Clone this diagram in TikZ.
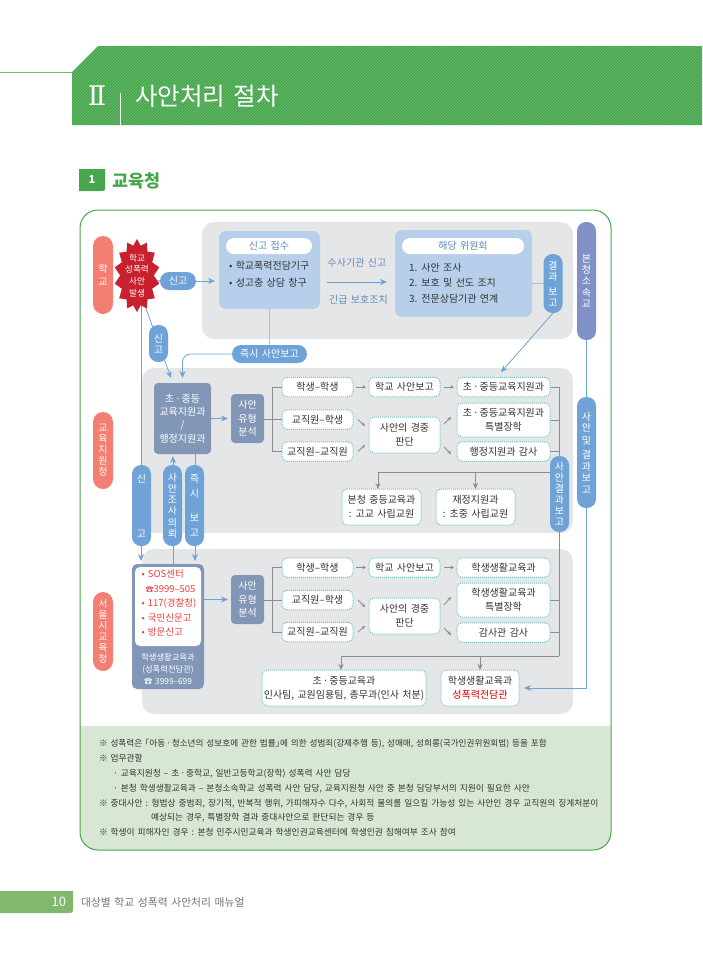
\documentclass[tikz,border=0pt]{standalone}
\usepackage{fontspec}
\setmainfont[WordSpace=1.5]{Noto Sans CJK KR}
\newfontfamily\numeralfont{DejaVu Serif}
\usetikzlibrary{positioning, arrows.meta, shapes.symbols, patterns, backgrounds}
\definecolor{framegreen}{HTML}{46A64C}
\definecolor{hatchgreen}{HTML}{6FBC72}
\definecolor{tabgreen}{HTML}{82B86E}
\definecolor{notegreen}{HTML}{D8E7D3}
\definecolor{panelgray}{HTML}{E5E6E8}
\definecolor{boxblue}{HTML}{B7CFEA}
\definecolor{pillblue}{HTML}{6FA3D8}
\definecolor{lineblue}{HTML}{9DC0E4}
\definecolor{slate}{HTML}{8296B8}
\definecolor{purple}{HTML}{8091C7}
\definecolor{salmon}{HTML}{F57E72}
\definecolor{starred}{HTML}{C8202E}
\definecolor{teal}{HTML}{6FC7C2}
\definecolor{arrowgray}{HTML}{8C8C8C}
\definecolor{inkgray}{HTML}{333333}
\definecolor{itemred}{HTML}{E6403F}
\newcommand{\middot}{\hspace{0.1em}·\hspace{0.1em}}

\begin{document}
\begin{tikzpicture}[x=1pt, y=-1pt,
  every node/.style={inner sep=0pt, outer sep=0pt},
  panel/.style={fill=panelgray, rounded corners=12pt},
  pillv/.style={fill=pillblue, rounded corners=9pt, minimum width=19pt, align=center,
                text=white, font=\fontsize{10}{11}\selectfont},
  pillh/.style={fill=pillblue, rounded corners=9pt, minimum height=18pt, align=center,
                text=white, font=\fontsize{10}{12}\selectfont},
  orgpill/.style={fill=salmon, rounded corners=10pt, minimum width=20pt, align=center,
                  text=white, font=\fontsize{10}{11}\selectfont},
  bluebox/.style={fill=boxblue, rounded corners=7pt},
  whitepill/.style={fill=white, rounded corners=8pt, minimum height=16pt,
                    text=pillblue!85!black, font=\fontsize{10}{12}\selectfont},
  slatebox/.style={fill=slate, rounded corners=4pt, align=center, text=white,
                   font=\fontsize{10}{13.3}\selectfont},
  tealbox/.style={draw=teal, dash pattern=on 1pt off 1pt, line width=1pt, fill=white, rounded corners=5pt,
                  align=center, text=inkgray, font=\fontsize{10}{14}\selectfont},
  bline/.style={color=lineblue, line width=1.1pt},
  barr/.style={-{Stealth[length=7pt, width=6pt]}, color=pillblue, line width=0.8pt},
  gline/.style={color=arrowgray, line width=0.8pt},
  garr/.style={-{Stealth[length=6pt, width=5pt]}, color=arrowgray, line width=0.8pt},
  gsmall/.style={-{Stealth[length=3.5pt, width=3.5pt]}, color=arrowgray, line width=0.8pt},
  lbl/.style={text=pillblue!85!black, font=\fontsize{10}{12}\selectfont},
]
\useasboundingbox (0,0) rectangle (702,956);

% === Page header ===
\draw[color=hatchgreen, line width=0.8pt] (0,72.5) -- (72,72.5);
\fill[framegreen] (72,72) -- (98,46) -- (702,46) -- (702,125) -- (72,125) -- cycle;
\fill[pattern=north east lines, pattern color=hatchgreen] (72,72) -- (98,46) -- (702,46) -- (702,125) -- (72,125) -- cycle;
\draw[color=white, line width=0.8pt] (120,93) -- (120,125);
\node[text=white, font=\numeralfont\fontsize{27}{27}\selectfont] (chapno) at (97,96) {Ⅱ};
\node[text=white, anchor=west, font=\fontsize{24.6}{25}\selectfont] (chaptitle) at (135,96.5) {사안처리 절차};

% === Section title ===
\fill[framegreen] (79,169) -- (105,169) -- (105,186) .. controls (105,191) and (105,191) .. (100,191) -- (79,191) -- cycle;
\node[text=white, font=\bfseries\fontsize{11}{11}\selectfont] (secno) at (92,180) {1};
\node[text=framegreen, anchor=west, font=\bfseries\fontsize{17.4}{18}\selectfont] (sectitle) at (112,181) {교육청};

% === Frame and gray panels ===
\begin{scope}[on background layer]
  \begin{scope}
    \clip[rounded corners=18pt] (80,210) rectangle (611,850);
    \fill[notegreen] (80,726) rectangle (611,850);
  \end{scope}
  \draw[color=framegreen, line width=1pt, rounded corners=18pt] (80,210) rectangle (611,850);
  \fill[panel] (202,222) rectangle (573,339);
  \fill[panel] (142,368) rectangle (573,533);
  \fill[panel] (142,549) rectangle (573,714);
\end{scope}

% === Row labels ===
\node[orgpill, minimum height=78pt] (school) at (103,275) {학\\[2pt]교};
\node[orgpill, minimum height=77pt] (district) at (103,450.5) {교\\육\\지\\원\\청};
\node[orgpill, minimum height=79pt] (seoul) at (103,631.5) {서\\울\\시\\교\\육\\청};
\node[fill=purple, rounded corners=9pt, minimum width=19pt, minimum height=118pt, align=center,
      text=white, font=\fontsize{10}{11.3}\selectfont] (head) at (586.5,281) {본\\청\\소\\속\\교};

% === Incident and first report ===
\node[fill=starred, starburst, starburst points=14, starburst point height=6pt, random starburst=0,
      align=center, text=white, font=\fontsize{8.6}{11.8}\selectfont] (incident) at (137,275.5) {학교\\성폭력\\사안\\발생};
\node[pillh, minimum width=36pt] (reportpill) at (178,281) {신고};
\node[pillv, minimum height=37pt] (reportv) at (158.5,343.5) {신\\고};

% === Report desk ===
\node[bluebox, minimum width=101pt, minimum height=78pt] (receipt) at (269.5,270) {};
\node[whitepill, minimum width=86pt] (receipthead) at (269,246) {신고 접수};
\node[anchor=north west, align=left, text=inkgray, font=\fontsize{10}{17}\selectfont] (receiptlist) at (229,261) {• 학교폭력전담기구\\• 성고충 상담 창구};
\node[pillh, minimum width=75pt] (immediate) at (269.5,354) {즉시 사안보고};
\node[lbl] (police) at (357,263) {수사기관 신고};
\node[lbl] (protect) at (358.5,300) {긴급 보호조치};

% === Committee ===
\node[bluebox, minimum width=137pt, minimum height=87pt] (committee) at (463.5,273.5) {};
\node[whitepill, minimum width=122pt] (committeehead) at (463,246) {해당 위원회};
\node[anchor=north west, align=left, text=inkgray, font=\fontsize{10}{15.5}\selectfont] (committeelist) at (409,263) {1. 사안 조사\\2. 보호 및 선도 조치\\3. 전문상담기관 연계};
\node[pillv, minimum height=59pt] (resultpill) at (553,283.5) {결\\과\\[4pt]보\\고};

% === Education office row ===
\node[slatebox, minimum width=57pt, minimum height=71pt] (midbox) at (182.5,418.5) {초\middot 중등\\교육지원과\\/\\행정지원과};
\node[slatebox, minimum width=33pt, minimum height=49pt, right=20pt of midbox] (manal) {사안\\유형\\분석};
\node[tealbox, minimum width=71pt, minimum height=19.5pt] (mpp) at (317.5,387) {학생–학생};
\node[tealbox, minimum width=71pt, minimum height=19.5pt, below=13pt of mpp] (mts) {교직원–학생};
\node[tealbox, minimum width=71pt, minimum height=19.5pt, below=12.5pt of mts] (mtt) {교직원–교직원};
\node[tealbox, minimum width=71pt, minimum height=19.5pt, right=16pt of mpp] (mreport) {학교 사안보고};
\node[tealbox, minimum width=93pt, minimum height=19.5pt, right=17pt of mreport] (mdept) {초\middot 중등교육지원과};
\node[tealbox, minimum width=71pt, minimum height=36pt] (mjudge) at (404.5,435) {사안의 경중\\판단};
\node[tealbox, minimum width=93pt, minimum height=34pt] (mspecial) at (503.5,420) {초\middot 중등교육지원과\\특별장학};
\node[tealbox, minimum width=93pt, minimum height=19.5pt] (maudit) at (503.5,451.5) {행정지원과 감사};
\node[tealbox, minimum width=79pt, minimum height=36pt] (msec) at (381.5,507) {본청 중등교육과\\: 고교 사립교원};
\node[tealbox, minimum width=79pt, minimum height=36pt, right=15pt of msec] (mfin) {재정지원과\\: 초중 사립교원};

% === Vertical report pills ===
\node[pillv, minimum height=81pt] (reportlong) at (141.5,505.5) {신\\[44pt]고};
\node[pillv, minimum height=81pt, font=\fontsize{10}{11.2}\selectfont] (inquiry) at (172.5,505.5) {사\\안\\조\\사\\의\\뢰};
\node[pillv, minimum height=81pt, font=\fontsize{10}{15}\selectfont] (immediatev) at (194.5,505.5) {즉\\시\\[9pt]보\\고};
\node[pillv, minimum height=76pt, font=\fontsize{10}{10.5}\selectfont] (resultlong) at (559.5,494) {사\\안\\[1pt]결\\과\\[1pt]보\\고};
\node[pillv, minimum height=111pt, font=\fontsize{10}{11.5}\selectfont] (resultall) at (586.5,452.5) {사\\안\\[1pt]및\\[3pt]결\\과\\보\\고};

% === Seoul office row ===
\node[fill=slate, rounded corners=5pt, minimum width=72pt, minimum height=125pt] (seoulbox) at (168,626.5) {};
\node[fill=white, rounded corners=5pt, minimum width=66pt, minimum height=79pt] (seoulinner) at (168,606.5) {};
\node[anchor=north west, align=left, text=itemred, font=\fontsize{9.5}{14.4}\selectfont] (seoullist) at (141.5,570) {• SOS센터\\\hspace*{4pt}{\fontsize{8}{8}\selectfont ☎}3999–505\\• 117(경찰청)\\• 국민신문고\\• 방문신고};
\node[align=center, text=white, font=\fontsize{8.3}{12}\selectfont] (seoulcaption) at (168,669) {학생생활교육과\\(성폭력전담관)\\☎ 3999–699};
\node[slatebox, minimum width=33pt, minimum height=49pt] (sanal) at (247.5,599.5) {사안\\유형\\분석};
\node[tealbox, minimum width=71pt, minimum height=19.5pt] (spp) at (317.5,567.5) {학생–학생};
\node[tealbox, minimum width=71pt, minimum height=19.5pt, below=13pt of spp] (sts) {교직원–학생};
\node[tealbox, minimum width=71pt, minimum height=19.5pt, below=12.5pt of sts] (stt) {교직원–교직원};
\node[tealbox, minimum width=71pt, minimum height=19.5pt, right=16pt of spp] (sreport) {학교 사안보고};
\node[tealbox, minimum width=93pt, minimum height=19.5pt, right=17pt of sreport] (sdept) {학생생활교육과};
\node[tealbox, minimum width=71pt, minimum height=36pt] (sjudge) at (404.5,616) {사안의 경중\\판단};
\node[tealbox, minimum width=93pt, minimum height=34pt] (sspecial) at (503.5,600) {학생생활교육과\\특별장학};
\node[tealbox, minimum width=93pt, minimum height=19.5pt] (saudit) at (503.5,632.5) {감사관 감사};
\node[tealbox, minimum width=164pt, minimum height=36pt] (spersonnel) at (344,688) {초\middot 중등교육과\\인사팀, 교원임용팀, 총무과(인사 처분)};
\node[tealbox, minimum width=78pt, minimum height=36pt] (scounsel) at (480,688) {학생생활교육과\\{\color{red!85!black}성폭력전담관}};

% === Bus coordinates ===
\coordinate (busupper) at (559,472);
\coordinate (buslower) at (559,656);

% === Blue connectors ===
\begin{scope}[on background layer]
  % Incident -> Report desk
  \draw[bline] ([yshift=-5.5pt]incident.center) -- (reportpill.west);
  \draw[barr] (reportpill.east) -- ([xshift=-4pt,yshift=-11pt]receipt.west);
  % Incident -> Education office
  \draw[barr] ([xshift=8pt,yshift=-30pt]incident.center) -- ([xshift=-11.5pt,yshift=5pt]midbox.north);
  % Incident -> Seoul office
  \draw[barr] ([xshift=4pt]incident.center) -- ([xshift=9pt,yshift=3pt]seoulbox.north west);
  % Report desk -> Education office
  \draw[bline] (receipt.south) -- (immediate.north);
  \draw[barr, rounded corners=8pt] (immediate.west) -| ([yshift=5pt]midbox.north);
  % Report desk -> Committee
  \draw[barr] ([xshift=7pt,yshift=-12pt]receipt.east) -- ([xshift=-8pt,yshift=-8.5pt]committee.west);
  \draw[bline] (resultpill.west -| committee.east) -- (resultpill.west);
  \draw[barr] (resultpill.south) -- ([xshift=-2.5pt,yshift=5pt]mdept.north);
  % Education office <-> Seoul office
  \draw[barr] ([xshift=41pt]seoulbox.north west) -- ([xshift=19pt,yshift=-2pt]midbox.south west);
  \draw[barr] ([xshift=41pt]midbox.south west) -- ([xshift=63pt,yshift=3pt]seoulbox.north west);
  % Analysis arrows
  \draw[barr] (midbox.east) -- ([xshift=-3pt]manal.west);
  \draw[barr] (sanal.west -| seoulbox.east) -- ([xshift=-3pt]sanal.west);
  % Head school -> Counsellor
  \draw[barr] (head.south) |- ([xshift=5pt]scounsel.east);
\end{scope}

% === Gray connectors ===
\begin{scope}[on background layer]
  % Education office case types
  \draw[gline] (mpp.west) -| ([xshift=-10pt]mtt.west) -- (mtt.west);
  \draw[gline] (manal.east |- mts.west) -- (mts.west);
  \draw[gsmall] ([xshift=3pt]mpp.east) -- ([xshift=-3pt]mreport.west);
  \draw[gsmall] ([xshift=4pt]mreport.east) -- ([xshift=-3pt]mdept.west);
  \draw[gsmall] ([xshift=5pt]mts.east) -- ([xshift=-4pt,yshift=9pt]mjudge.west);
  \draw[gsmall] ([xshift=5pt]mtt.east) -- ([xshift=-4pt,yshift=-10pt]mjudge.west);
  \draw[gsmall] ([xshift=4pt,yshift=11pt]mjudge.east) -- ([xshift=-6pt,yshift=3pt]mspecial.west);
  \draw[gsmall] ([xshift=4pt,yshift=-12pt]mjudge.east) -- ([xshift=-6pt,yshift=-2.5pt]maudit.west);
  % Seoul office case types
  \draw[gline] (spp.west) -| ([xshift=-10pt]stt.west) -- (stt.west);
  \draw[gline] (sanal.east |- sts.west) -- (sts.west);
  \draw[gsmall] ([xshift=3pt]spp.east) -- ([xshift=-3pt]sreport.west);
  \draw[gsmall] ([xshift=4pt]sreport.east) -- ([xshift=-3pt]sdept.west);
  \draw[gsmall] ([xshift=5pt]sts.east) -- ([xshift=-4pt,yshift=9pt]sjudge.west);
  \draw[gsmall] ([xshift=5pt]stt.east) -- ([xshift=-4pt,yshift=-10pt]sjudge.west);
  \draw[gsmall] ([xshift=4pt,yshift=11pt]sjudge.east) -- ([xshift=-6pt,yshift=3pt]sspecial.west);
  \draw[gsmall] ([xshift=4pt,yshift=-12pt]sjudge.east) -- ([xshift=-6pt,yshift=-2.5pt]saudit.west);
  % Result bus
  \draw[gline] (mdept.east) -| (buslower);
  \draw[gline] (mspecial.east) -- (mspecial.east -| buslower);
  \draw[gline] (maudit.east) -- (maudit.east -| buslower);
  \draw[gline] (sspecial.east) -- (sspecial.east -| buslower);
  \draw[gline] (saudit.east) -- (saudit.east -| buslower);
  \draw[garr] (busupper) -| ([xshift=-3.5pt]msec.north);
  \draw[garr] (busupper -| mfin.north) -- (mfin.north);
  \draw[garr] (buslower) -| ([xshift=-3pt]spersonnel.north);
  \draw[garr] (buslower -| scounsel.north) -- (scounsel.north);
\end{scope}

% === Notes ===
\node[anchor=north west, align=left, text=inkgray, font=\fontsize{8.72}{14.8}\selectfont] (notes) at (99,739.5) {{\fontsize{8.62}{14.8}\selectfont ※ 성폭력은 \hspace{-0.5em}「아동\middot 청소년의 성보호에 관한 법률」\hspace{-0.5em}에 의한 성범죄(강제추행 등), 성매매, 성희롱(국가인권위원회법) 등을 포함}\\
※ 업무관할\\
\hspace*{14pt}· 교육지원청 – 초\middot 중학교, 일반고등학교(장학) 성폭력 사안 담당\\
\hspace*{14pt}· 본청 학생생활교육과 – 본청소속학교 성폭력 사안 담당, 교육지원청 사안 중 본청 담당부서의 지원이 필요한 사안\\
※ 중대사안 : 형법상 중범죄, 장기적, 반복적 행위, 가피해자수 다수, 사회적 물의를 일으킬 가능성 있는 사안인 경우 교직원의 징계처분이\\
\hspace*{52pt}예상되는 경우, 특별장학 결과 중대사안으로 판단되는 경우 등\\
※ 학생이 피해자인 경우 : 본청 민주시민교육과 학생인권교육센터에 학생인권 침해여부 조사 참여};

% === Page footer ===
\fill[tabgreen] (0,891) -- (73,891) -- (73,907) .. controls (73,913) and (73,913) .. (67,913) -- (0,913) -- cycle;
\node[text=white, anchor=east, font=\fontsize{13}{14}\selectfont] (pageno) at (66,902) {10};
\node[text=black!55, anchor=west, right=15pt of pageno, font=\fontsize{10.8}{12}\selectfont] (pagetitle) {대상별 학교 성폭력 사안처리 매뉴얼};
\end{tikzpicture}
\end{document}
